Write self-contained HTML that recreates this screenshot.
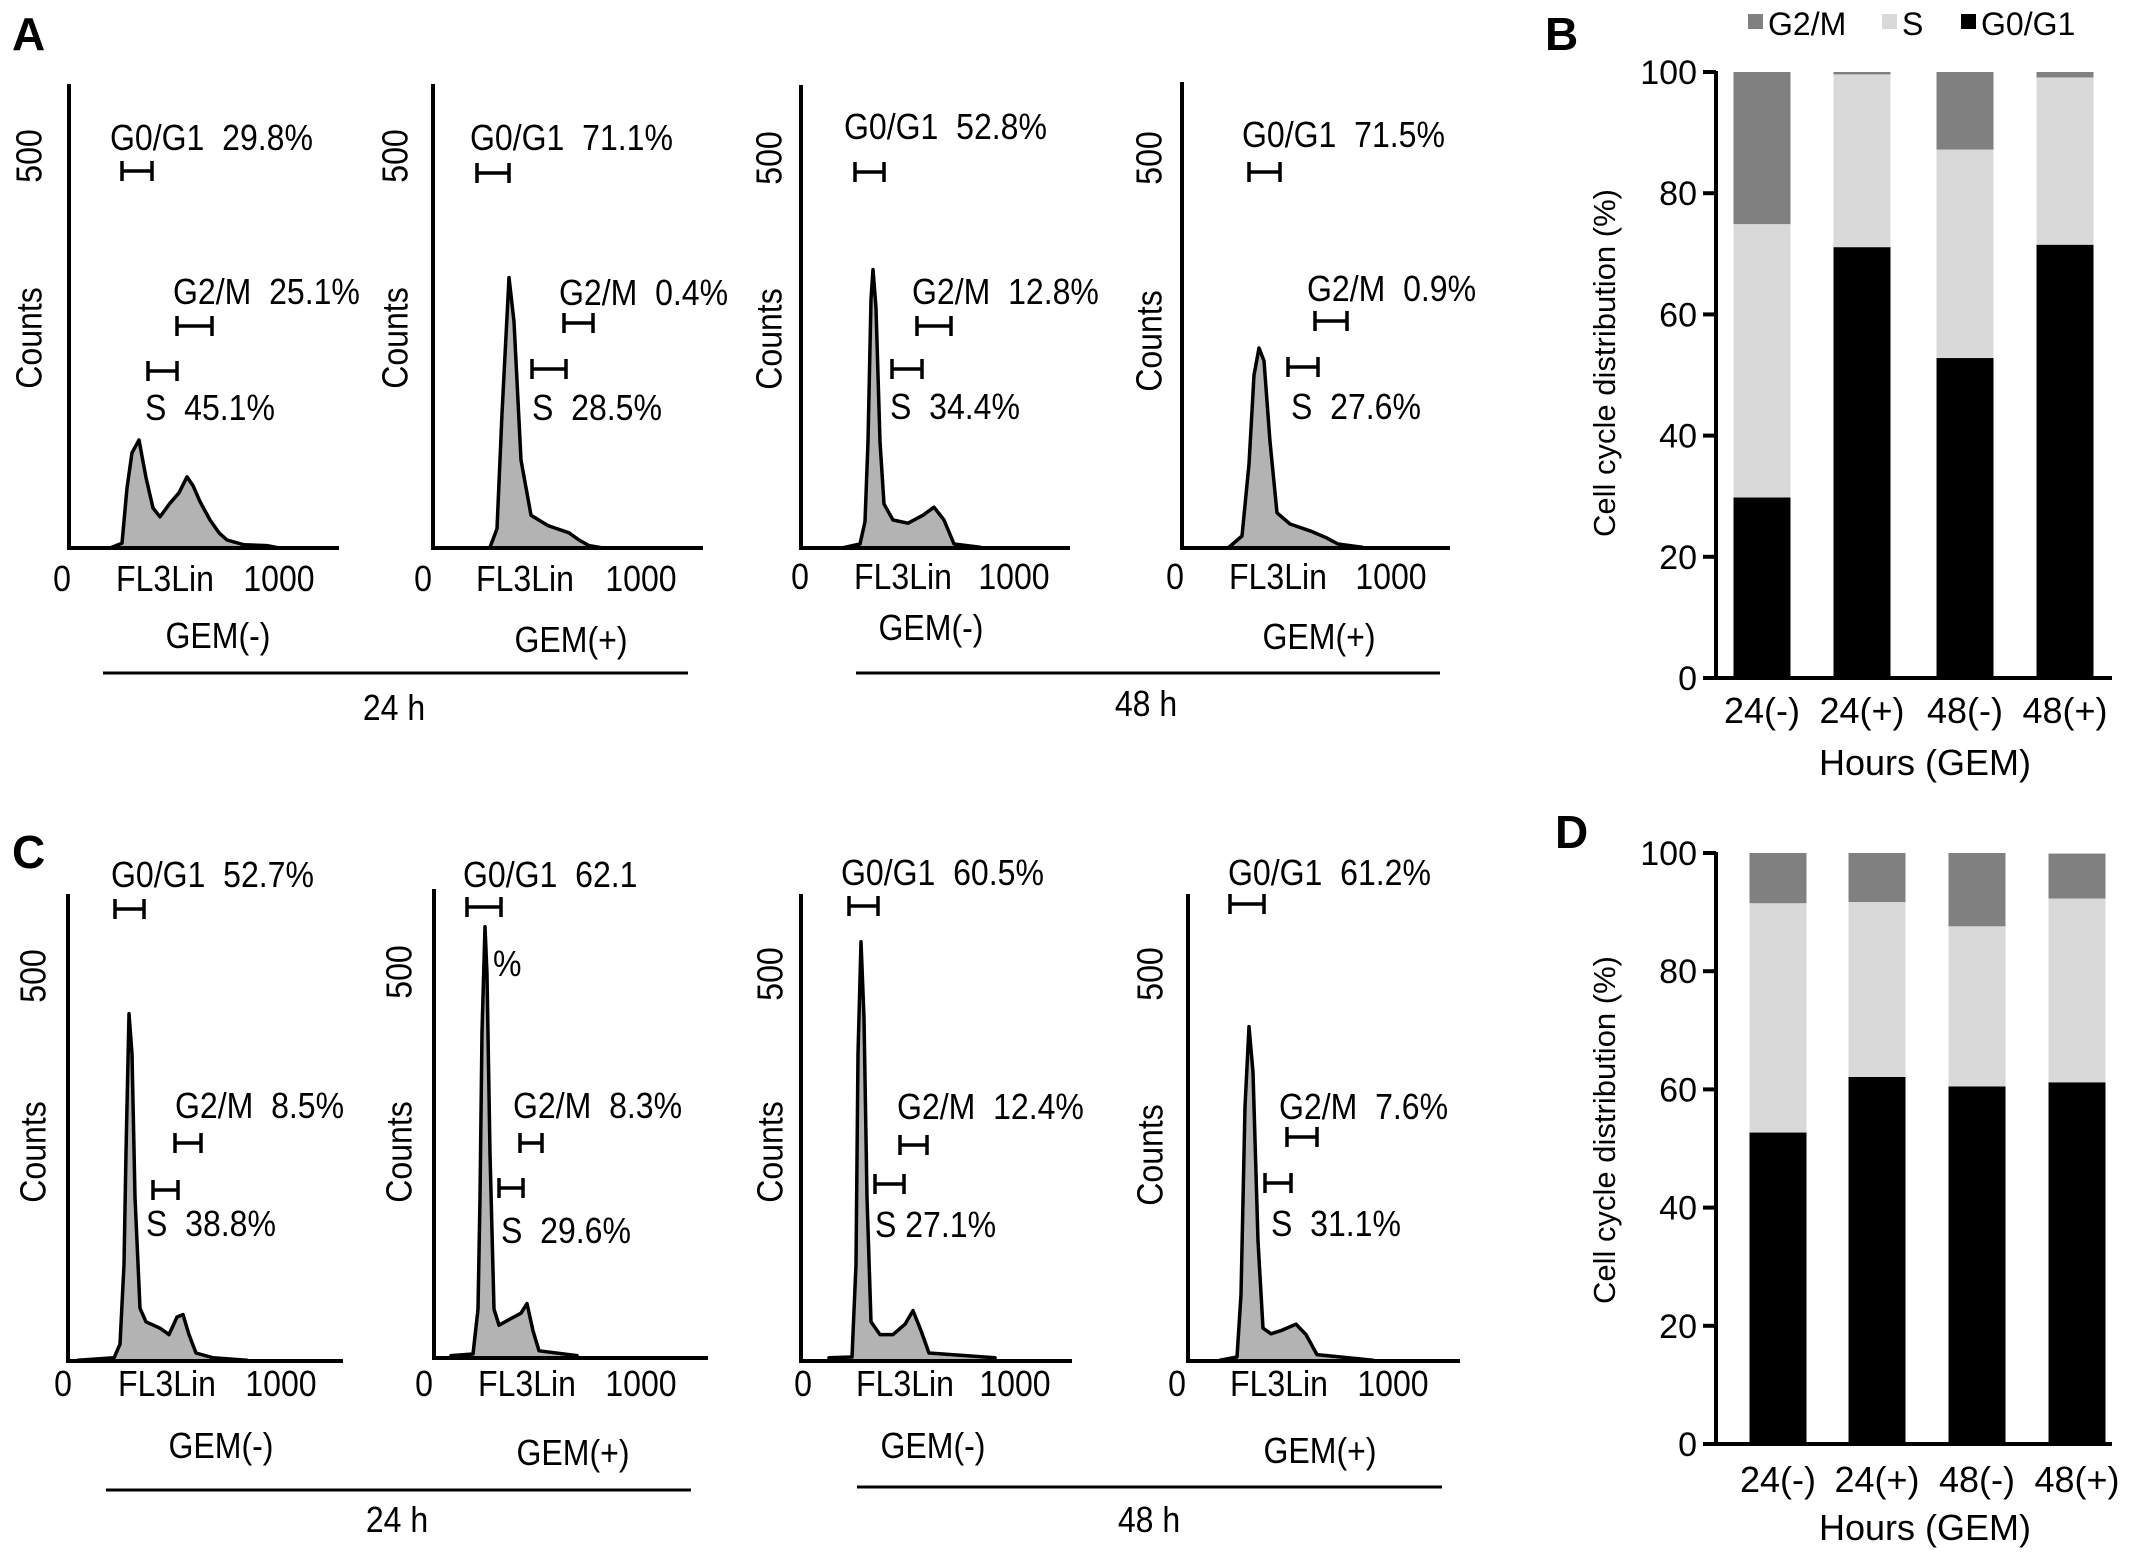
<!DOCTYPE html>
<html><head><meta charset="utf-8">
<style>
html,body{margin:0;padding:0;background:#fff;}
svg{display:block;font-family:"Liberation Sans",Arial,sans-serif;}
</style></head>
<body>
<svg id="fig" width="2150" height="1560" viewBox="0 0 2150 1560" xmlns="http://www.w3.org/2000/svg"></svg>
<script>
// ---- Histogram data (FL3Lin channel, counts) ----
const histA1Ch = [205,265,290,315,350,385,420,455,505,550,590,620,655,705,750,790,875,990,1050];
const histA1Ct = [0,6,75,119,135,88,50,39,56,69,89,78,58,35,19,10,4,3,0];
const histA2Ch = [285,320,345,380,405,440,490,575,680,730,780,850];
const histA2Ct = [1,24,168,338,283,110,41,28,19,10,3,0];
const histA3Ch = [205,295,320,335,350,360,375,395,415,460,535,610,665,715,765,895];
const histA3Ct = [0,5,33,133,311,348,300,133,55,35,31,41,51,35,5,1];
const histA4Ch = [235,300,335,360,385,410,440,475,540,645,720,780,900];
const histA4Ct = [1,15,105,216,250,234,133,44,30,21,13,5,1];
const histC1Ch = [50,230,260,280,290,305,320,335,360,390,460,505,545,575,605,640,725,895];
const histC1Ct = [1,4,21,121,261,434,384,205,66,49,41,33,55,58,33,10,4,1];
const histC2Ch = [85,195,220,230,240,255,265,280,300,325,375,435,465,495,525,715];
const histC2Ct = [3,5,61,201,408,539,480,256,61,41,48,56,68,34,9,3];
const histC3Ch = [140,255,275,285,300,315,330,350,395,460,520,560,600,640,970];
const histC3Ct = [4,5,121,384,524,429,205,49,33,33,46,63,38,10,4];
const histC4Ch = [160,245,265,285,305,325,350,375,415,465,540,590,645,925];
const histC4Ct = [1,5,83,318,418,361,150,41,34,38,46,33,8,1];

// ---- Stacked bar data ----
const barCategories = ["24(-)","24(+)","48(-)","48(+)"];
const barTicks = [0,20,40,60,80,100];
const bG0G1 = [29.8,71.1,52.8,71.5];
const bS = [45.1,28.5,34.4,27.6];
const bG2M = [25.1,0.4,12.8,0.9];
const dG0G1 = [52.7,62.1,60.5,61.2];
const dS = [38.8,29.6,27.1,31.1];
const dG2M = [8.5,8.3,12.4,7.6];

const NS = "http://www.w3.org/2000/svg";
const svg = document.getElementById('fig');
function el(tag, attrs, parent){
  const e = document.createElementNS(NS, tag);
  for (const k in attrs) e.setAttribute(k, attrs[k]);
  (parent||svg).appendChild(e);
  return e;
}
function txt(x,y,s,size,anchor,parent,rot,cond){
  const t = el('text',{x:x,y:y,'font-size':size,'text-anchor':anchor||'start',fill:'#000'},parent);
  t.setAttribute('xml:space','preserve');
  t.style.whiteSpace='pre';
  const sc = cond ? ' scale('+cond+',1)' : '';
  if(rot){
    t.setAttribute('transform','translate('+x+' '+y+') rotate(-90)'+sc+' translate('+(-x)+' '+(-y)+')');
    t.setAttribute('dominant-baseline','middle');
  } else if(cond){
    t.setAttribute('transform','translate('+x+' '+y+')'+sc+' translate('+(-x)+' '+(-y)+')');
  }
  t.textContent = s;
  return t;
}
function bracket(x1,x2,y,parent){
  const g = el('g',{},parent);
  
  
  el('line',{x1:x1,y1:y,x2:x2,y2:y,stroke:'#000','stroke-width':3.5},g);
  el('line',{x1:x1,y1:y-10,x2:x1,y2:y+10,stroke:'#000','stroke-width':3.5},g);
  el('line',{x1:x2,y1:y-10,x2:x2,y2:y+10,stroke:'#000','stroke-width':3.5},g);
}

// panel letters
[["A",12,50],["C",12,868],["B",1545,50],["D",1555,848]].forEach(p=>{
  const t = txt(p[1],p[2],p[0],46,'start');
  t.setAttribute('font-weight','bold');
  
  
});

// histogram panels
const hists = [
 {id:'a1',ch:histA1Ch,ct:histA1Ct,ax:69,top:84,base:548,xe:339,tickX:32,tick500:156,counts:338,
  g0:[110,150,'G0/G1  29.8%'],b0:[122,152,171],g2:[173,304,'G2/M  25.1%'],b2:[177,212,326],bs:[148,177,371],s:[145,420,'S  45.1%'],
  lab:[62,165,279,591],gem:[218,648,'GEM(-)']},
 {id:'a2',ch:histA2Ch,ct:histA2Ct,ax:433,top:84,base:548,xe:703,tickX:398,tick500:156,counts:338,
  g0:[470,150,'G0/G1  71.1%'],b0:[477,509,173],g2:[559,305,'G2/M  0.4%'],b2:[564,593,323],bs:[532,566,369],s:[532,420,'S  28.5%'],
  lab:[423,525,641,591],gem:[571,652,'GEM(+)']},
 {id:'a3',ch:histA3Ch,ct:histA3Ct,ax:801,top:85,base:548,xe:1070,tickX:772,tick500:158,counts:339,
  g0:[844,139,'G0/G1  52.8%'],b0:[855,884,172],g2:[912,304,'G2/M  12.8%'],b2:[917,951,326],bs:[892,922,369],s:[890,419,'S  34.4%'],
  lab:[800,903,1014,589],gem:[931,640,'GEM(-)']},
 {id:'a4',ch:histA4Ch,ct:histA4Ct,ax:1182,top:82,base:548,xe:1450,tickX:1152,tick500:158,counts:341,
  g0:[1242,147,'G0/G1  71.5%'],b0:[1249,1280,172],g2:[1307,301,'G2/M  0.9%'],b2:[1315,1347,321],bs:[1288,1318,367],s:[1291,419,'S  27.6%'],
  lab:[1175,1278,1391,589],gem:[1319,649,'GEM(+)']},
 {id:'c1',ch:histC1Ch,ct:histC1Ct,ax:68,top:894,base:1361,xe:343,tickX:36,tick500:976,counts:1152,
  g0:[111,887,'G0/G1  52.7%'],b0:[115,144,909],g2:[175,1118,'G2/M  8.5%'],b2:[175,201,1143],bs:[153,178,1190],s:[146,1236,'S  38.8%'],
  lab:[63,167,281,1396],gem:[221,1458,'GEM(-)']},
 {id:'c2',ch:histC2Ch,ct:histC2Ct,ax:434,top:889,base:1358,xe:708,tickX:402,tick500:972,counts:1152,
  g0:[463,887,'G0/G1  62.1'],b0:[467,501,907],g2:[513,1118,'G2/M  8.3%'],b2:[520,542,1143],bs:[499,523,1188],s:[501,1243,'S  29.6%'],
  lab:[424,527,641,1396],gem:[573,1465,'GEM(+)'],extra:[493,976,'%']},
 {id:'c3',ch:histC3Ch,ct:histC3Ct,ax:801,top:894,base:1361,xe:1072,tickX:773,tick500:974,counts:1152,
  g0:[841,885,'G0/G1  60.5%'],b0:[849,878,906],g2:[897,1119,'G2/M  12.4%'],b2:[900,927,1145],bs:[875,904,1184],s:[875,1237,'S 27.1%'],
  lab:[803,905,1015,1396],gem:[933,1458,'GEM(-)']},
 {id:'c4',ch:histC4Ch,ct:histC4Ct,ax:1188,top:894,base:1361,xe:1460,tickX:1153,tick500:974,counts:1155,
  g0:[1228,885,'G0/G1  61.2%'],b0:[1230,1264,904],g2:[1279,1119,'G2/M  7.6%'],b2:[1287,1317,1137],bs:[1265,1291,1183],s:[1271,1236,'S  31.1%'],
  lab:[1177,1279,1393,1396],gem:[1320,1463,'GEM(+)']}
];

const FS = 36, CD = 0.89;
hists.forEach(h=>{
  const g = el('g',{});
  
  
  const xs = c => h.ax + c*0.2;
  const ys = v => h.base - v*0.8;
  let d = 'M'+xs(h.ch[0])+','+h.base;
  for(let i=0;i<h.ch.length;i++) d += ' L'+xs(h.ch[i]).toFixed(1)+','+ys(h.ct[i]).toFixed(1);
  d += ' L'+xs(h.ch[h.ch.length-1])+','+h.base+' Z';
  const p = el('path',{d:d,fill:'#b3b3b3',stroke:'#000','stroke-width':3.5,'stroke-linejoin':'round'},g);
  
  
  const ya = el('line',{x1:h.ax,y1:h.top,x2:h.ax,y2:h.base+2,stroke:'#000','stroke-width':4},g);
  
  
  const xa = el('line',{x1:h.ax-2,y1:h.base,x2:h.xe,y2:h.base,stroke:'#000','stroke-width':4},g);
  
  
  const t500 = txt(h.tickX,h.tick500,'500',FS,'middle',g,true,CD);
  
  
  const tc = txt(h.tickX,h.counts,'Counts',FS,'middle',g,true,CD);
  
  
  const l0 = txt(h.lab[0],h.lab[3],'0',FS,'middle',g,false,CD);
  
  
  const lf = txt(h.lab[1],h.lab[3],'FL3Lin',FS,'middle',g,false,CD);
  
  
  const l1 = txt(h.lab[2],h.lab[3],'1000',FS,'middle',g,false,CD);
  
  
  const gm = txt(h.gem[0],h.gem[1],h.gem[2],FS,'middle',g,false,CD);
  
  
  const a = txt(h.g0[0],h.g0[1],h.g0[2],FS,'start',g,false,CD);
  
  
  const b = txt(h.g2[0],h.g2[1],h.g2[2],FS,'start',g,false,CD);
  
  
  const c = txt(h.s[0],h.s[1],h.s[2],FS,'start',g,false,CD);
  
  
  if(h.extra){
    const e = txt(h.extra[0],h.extra[1],h.extra[2],FS,'start',g,false,CD);
    
    
  }
  bracket(h.b0[0],h.b0[1],h.b0[2],g);
  bracket(h.b2[0],h.b2[1],h.b2[2],g);
  bracket(h.bs[0],h.bs[1],h.bs[2],g);
});

// time group lines
[[103,688,673,394,720,'24 h'],[856,1440,673,1146,716,'48 h'],[106,691,1490,397,1532,'24 h'],[857,1442,1487,1149,1532,'48 h']].forEach(r=>{
  const ln = el('line',{x1:r[0],y1:r[2],x2:r[1],y2:r[2],stroke:'#000','stroke-width':3});
  
  
  const t = txt(r[3],r[4],r[5],FS,'middle',null,false,CD);
  
  
});

// stacked bar charts
function stacked(id,y100,y0,centers,g0,s,g2,titleY,catY,hoursY){
  const g = el('g',{});
  
  
  const ax = 1716;
  const ys = v => y0 - (y0-y100)*v/100;
  const bw = 57;
  for(let i=0;i<barCategories.length;i++){
    const cx = centers[i];
    const segs = [[0,g0[i],'#000','bar-g0g1'],[g0[i],g0[i]+s[i],'#d9d9d9','bar-s'],[g0[i]+s[i],g0[i]+s[i]+g2[i],'#808080','bar-g2m']];
    segs.forEach(sg=>{
      const r = el('rect',{x:cx-bw/2,y:ys(sg[1]),width:bw,height:Math.max(0,ys(sg[0])-ys(sg[1])),fill:sg[2]},g);
      
      
    });
    const t = txt(cx,catY,barCategories[i],36,'middle',g);
    
    
  }
  const ya = el('line',{x1:ax,y1:ys(100)-1,x2:ax,y2:y0,stroke:'#000','stroke-width':4},g);
  
  
  const xa = el('line',{x1:1703,y1:y0,x2:2112,y2:y0,stroke:'#000','stroke-width':4},g);
  
  
  barTicks.forEach(v=>{
    const tk = el('line',{x1:1703,y1:ys(v),x2:ax,y2:ys(v),stroke:'#000','stroke-width':4},g);
    
    
    const tl = txt(1697,ys(v)+12,String(v),34,'end',g);
    
    
  });
  const yt = txt(1607,titleY,'Cell cycle distribution (%)',31,'middle',g,true);
  
  
  const xt = txt(1925,hoursY,'Hours (GEM)',36,'middle',g);
  
  
}
stacked('b',72,678,[1762,1862,1965,2065],bG0G1,bS,bG2M,363,723,775);
stacked('d',853,1444,[1778,1877,1977,2077],dG0G1,dS,dG2M,1130,1492,1540);

// legend
const lg = el('g',{});


[[1748,'#808080','G2/M'],[1882,'#d9d9d9','S'],[1961,'#000','G0/G1']].forEach(e=>{
  const r = el('rect',{x:e[0],y:14,width:15,height:15,fill:e[1]},lg);
  
  
  const t = txt(e[0]+20,35,e[2],32,'start',lg);
  
  
});
</script>
</body></html>
